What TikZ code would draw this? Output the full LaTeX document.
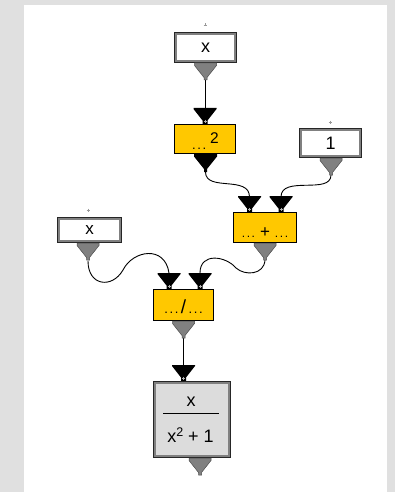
\documentclass[tikz,border=0pt]{standalone}
\usepackage{fontspec}
\setmainfont{Liberation Sans}
\definecolor{bgg}{RGB}{224,224,224}
\definecolor{opyel}{RGB}{255,200,0}
\definecolor{resg}{RGB}{220,220,220}
\definecolor{portg}{RGB}{128,128,128}
\newcommand\opdots[1]{{\fontsize{#1}{#1}\selectfont.\hspace{1.6pt}.\hspace{1.6pt}.}}
\begin{document}
\begin{tikzpicture}[x=1pt,y=-1pt,
  iobox/.style={draw=black!85, line width=0.9pt, double=black!50, double distance=1.6pt, fill=white, inner sep=0pt, font=\fontsize{18}{18}\selectfont},
  opbox/.style={draw=black, line width=0.8pt, fill=opyel, inner sep=0pt},
  wire/.style={line width=0.9pt, black},
  lbl/.style={inner sep=0pt, font=\fontsize{18}{18}\selectfont},
  tick/.style={draw=gray!80, line width=0.6pt},
  outtri/.pic={\filldraw[fill=portg, draw=black!70, line width=0.5pt] (-11,0) -- (11,0) -- (11,2.5) -- (1.5,14.5) -- (1.5,17) -- (-1.5,17) -- (-1.5,14.5) -- (-11,2.5) -- cycle;},
  outtrib/.pic={\fill[black] (-11.5,0) -- (11.5,0) -- (11.5,2.5) -- (1.5,15) -- (1.5,18) -- (-1.5,18) -- (-1.5,15) -- (-11.5,2.5) -- cycle;},
  intri/.pic={\fill[black] (-11.5,0) -- (11.5,0) -- (11.5,1) -- (2.5,12.5) -- (2.5,16) -- (-2.5,16) -- (-2.5,12.5) -- (-11.5,1) -- cycle;
              \draw[gray!60, line width=0.6pt] (-1.5,13.2) -- (1.5,13.2) (0,11.7) -- (0,14.7);}
]
\useasboundingbox (0,0) rectangle (395,492);
\fill[bgg] (0,0) rectangle (395,492);
\fill[white] (24,5) rectangle (387,492);

% port coordinates
\coordinate (xtopo) at (205,80);
\coordinate (sqi) at (205,108);
\coordinate (sqo) at (205.5,172);
\coordinate (oneo) at (331,175);
\coordinate (plusil) at (249.5,197);
\coordinate (plusir) at (281,197);
\coordinate (xlefto) at (88,261);
\coordinate (pluso) at (265,260);
\coordinate (divil) at (169,273);
\coordinate (divir) at (200,273);
\coordinate (divo) at (183.5,337);
\coordinate (resi) at (183.5,365);

% wires
\draw[wire] (xtopo) -- (sqi);
\draw[wire] (sqo) .. controls (205.5,192) and (249.5,175) .. (plusil);
\draw[wire] (oneo) .. controls (331,195) and (281,175) .. (plusir);
\draw[wire] (xlefto) .. controls (88,286) and (112,289) .. (123,270) .. controls (133,250) and (165,245) .. (divil);
\draw[wire] (pluso) .. controls (264,275) and (245,276) .. (236,268) .. controls (226,256) and (200,252) .. (divir);
\draw[wire] (divo) -- (resi);

% input / output boxes
\node[iobox, minimum width=59.5pt, minimum height=27.5pt] (xtop) at (205.5,47.5) {x};
\node[iobox, minimum width=59.5pt, minimum height=26.5pt] (one) at (330.5,143) {1};
\node[iobox, minimum width=61.5pt, minimum height=22.5pt, font=\fontsize{17}{17}\selectfont] (xleft) at (89.5,230) {x};
\node[iobox, fill=resg, minimum width=74.5pt, minimum height=73.5pt] (res) at (192,419.5) {};

% operation boxes
\node[opbox, minimum width=61pt, minimum height=29pt] (sq) at (205,139) {};
\node[opbox, minimum width=63pt, minimum height=30pt] (plus) at (265,227.5) {};
\node[opbox, minimum width=60pt, minimum height=31pt] (div) at (183.5,305) {};

% labels
\node[anchor=base west, inner sep=0pt] (sql) at (192,143) {\raisebox{-6pt}{\opdots{13}}\hspace{4pt}\fontsize{15.5}{16}\selectfont 2};
\node[anchor=base, inner sep=0pt] (plusl) at (265,237) {\opdots{12}\hspace{5pt}{\fontsize{17}{17}\selectfont+}\hspace{5pt}\opdots{12}};
\node[anchor=base, inner sep=0pt] (divl) at (183.5,313) {\opdots{13}\hspace{2.5pt}{\fontsize{19}{19}\selectfont/}\hspace{2.5pt}\opdots{13}};
\node[lbl] (num) at (191,402) {x};
\draw[line width=0.9pt] (163,413) -- (219,413);
\node[lbl, anchor=base] (den) at (190.5,442) {x\raisebox{6pt}{\fontsize{12.5}{12}\selectfont 2} + 1};

% ports
\pic at (205.5,63) {outtri};
\pic at (331,158) {outtri};
\pic at (88,243) {outtri};
\pic at (265,243) {outtri};
\pic at (183.5,321) {outtri};
\pic at (200,458) {outtri};
\pic at (205.5,154) {outtrib};
\pic at (205,108) {intri};
\pic at (249.5,196) {intri};
\pic at (281,196) {intri};
\pic at (169,273) {intri};
\pic at (200,273) {intri};
\pic at (183.5,365) {intri};

% small marks above inputs
\draw[tick] (203.5,25) -- (206.5,25) (205,23.5) -- (205,26.5);
\draw[tick] (328.5,122) -- (331.5,122) (330,120.5) -- (330,123.5);
\draw[tick] (86.5,210) -- (89.5,210) (88,208.5) -- (88,211.5);
\end{tikzpicture}
\end{document}
